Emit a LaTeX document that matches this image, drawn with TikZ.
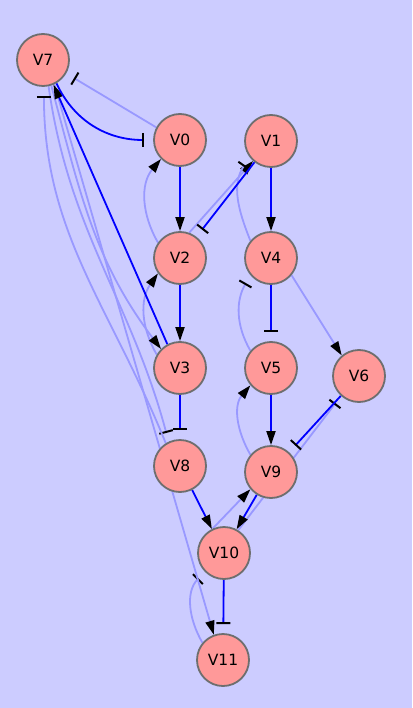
\documentclass[tikz,border=0pt]{standalone}
\usepackage{fontspec}
\usetikzlibrary{arrows.meta,backgrounds}
\newfontfamily\genefont{DejaVu Sans}
\definecolor{canvas}{RGB}{204,204,255}
\definecolor{genefill}{RGB}{255,153,153}
\definecolor{geneline}{RGB}{110,110,110}
\definecolor{paleblue}{RGB}{153,153,255}
\tikzset{
  gene/.style={circle, draw=geneline, fill=genefill, line width=1.8pt,
    minimum size=52pt, inner sep=0pt, font={\genefont\fontsize{15.5}{18}\selectfont}},
  act/.style={-{Triangle[length=14pt,width=9pt,color=black]}},
  inh/.style={-{Bar[width=14pt,line width=2pt,color=black]}, shorten >=9pt},
  live/.style={draw=blue, line width=1.8pt},
  pale/.style={draw=paleblue, line width=1.8pt}
}

\begin{document}
\begin{tikzpicture}[x=1pt, y=1pt]
  \node[gene] (V7) at (43,-60) {V7};
  \node[gene] (V0) at (180,-140) {V0};
  \node[gene] (V1) at (271,-141) {V1};
  \node[gene] (V2) at (180,-258) {V2};
  \node[gene] (V4) at (271,-258) {V4};
  \node[gene] (V3) at (180,-368) {V3};
  \node[gene] (V5) at (271,-368) {V5};
  \node[gene] (V6) at (359,-376) {V6};
  \node[gene] (V8) at (180,-466) {V8};
  \node[gene] (V9) at (271,-472) {V9};
  \node[gene] (V10) at (224,-553) {V10};
  \node[gene] (V11) at (223,-660) {V11};

  \begin{scope}[on background layer]
    \fill[canvas] (0,0) rectangle (412,-708);

    \draw[pale, inh] (V0.152) -- (V7.330);
    \draw[pale, act] (V2.145) to[out=120,in=230] (V0.225);
    \draw[pale, act] (V2.70) -- (V1.228);
    \draw[pale, inh] (V4.140) to[out=112,in=235] (V1.218);
    \draw[pale, act] (V3.150) to[out=120,in=235] (V2.215);
    \draw[pale, inh] (V5.140) to[out=120,in=240] (V4.220);
    \draw[pale, act] (V4.320) -- (V6.130);
    \draw[pale, act] (V9.140) to[out=120,in=230] (V5.220);
    \draw[pale, inh] (V10.58) -- (V6.228);
    \draw[pale, act] (V10.115) -- (V9.220);
    \draw[pale, inh] (V11.140) to[out=120,in=225] (V10.225);
    \draw[pale, act] (V7.-72) to[out=-75,in=127] (V3.135);
    \draw[pale, inh] (V7.-78) to[out=-82,in=105] (V8.115);
    \draw[pale, inh] (V8.122) to[out=112,in=-90] (V7.272);
    \draw[pale, act] (V7.-65) -- (V11.110);

    \draw[live, act] (V0) -- (V2);
    \draw[live, act] (V1) -- (V4);
    \draw[live, act] (V2) -- (V3);
    \draw[live, inh] (V1) -- (V2);
    \draw[live, inh] (V4) -- (V5);
    \draw[live, inh] (V3) -- (V8);
    \draw[live, act] (V5) -- (V9);
    \draw[live, inh] (V6) -- (V9);
    \draw[live, act] (V8) -- (V10);
    \draw[live, act] (V9.238) -- (V10.62);
    \draw[live, inh] (V10) -- (V11);
    \draw[live, act] (V3.118) -- (V7.-67);
    \draw[live, inh] (V7.-60) to[out=-65,in=180] (V0.west);
  \end{scope}
\end{tikzpicture}
\end{document}
